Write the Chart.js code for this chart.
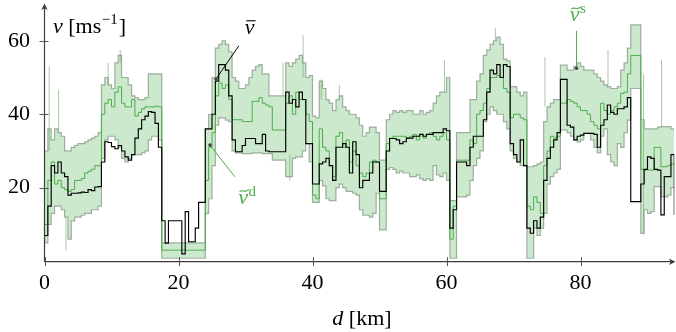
<!DOCTYPE html>
<html>
<head>
<meta charset="utf-8">
<script src="https://cdn.jsdelivr.net/npm/chart.js@4.4.1/dist/chart.umd.min.js"></script>
<style>
    html, body { margin: 0; padding: 0; background: #fff; }
</style>
</head>
<body>
<canvas id="velocitaChart" width="676" height="332"></canvas>
<script>
// distanza percorsa [km], passo 0.5
const distanza = [
    0, 0.5, 1, 1.5, 2, 2.5, 3, 3.5, 4, 4.5,
    5, 5.5, 6, 6.5, 7, 7.5, 8, 8.5, 9, 9.5,
    10, 10.5, 11, 11.5, 12, 12.5, 13, 13.5, 14, 14.5,
    15, 15.5, 16, 16.5, 17, 17.5, 18, 18.5, 19, 19.5,
    20, 20.5, 21, 21.5, 22, 22.5, 23, 23.5, 24, 24.5,
    25, 25.5, 26, 26.5, 27, 27.5, 28, 28.5, 29, 29.5,
    30, 30.5, 31, 31.5, 32, 32.5, 33, 33.5, 34, 34.5,
    35, 35.5, 36, 36.5, 37, 37.5, 38, 38.5, 39, 39.5,
    40, 40.5, 41, 41.5, 42, 42.5, 43, 43.5, 44, 44.5,
    45, 45.5, 46, 46.5, 47, 47.5, 48, 48.5, 49, 49.5,
    50, 50.5, 51, 51.5, 52, 52.5, 53, 53.5, 54, 54.5,
    55, 55.5, 56, 56.5, 57, 57.5, 58, 58.5, 59, 59.5,
    60, 60.5, 61, 61.5, 62, 62.5, 63, 63.5, 64, 64.5,
    65, 65.5, 66, 66.5, 67, 67.5, 68, 68.5, 69, 69.5,
    70, 70.5, 71, 71.5, 72, 72.5, 73, 73.5, 74, 74.5,
    75, 75.5, 76, 76.5, 77, 77.5, 78, 78.5, 79, 79.5,
    80, 80.5, 81, 81.5, 82, 82.5, 83, 83.5, 84, 84.5,
    85, 85.5, 86, 86.5, 87, 87.5, 88, 88.5, 89, 89.5,
    90, 90.5, 91, 91.5, 92, 92.5, 93, 93.5, 94
];

// velocita media misurata (v barra)
const velMedia = [
    7, 15, 26, 24, 27, 24, 23, 18, 18.5, 18.5,
    18.6, 18.8, 18.7, 19.5, 19.2, 20.2, 20.3, 27, 32.5, 32.3,
    31.2, 30.6, 31.5, 30, 28.4, 27.5, 29, 33.5, 36, 38.5,
    39.5, 40.7, 40.5, 37.5, 31, 11, 4.9, 11, 11, 11,
    11, 2, 13.5, 5.3, 5.3, 9, 16, 16, 36, 36,
    40, 49, 53.5, 53.5, 52, 45, 33, 29.8, 29.8, 31.5,
    33.4, 33.4, 33.4, 32, 32, 34.5, 30, 29.8, 29.8, 29.8,
    29.8, 29.8, 46, 43, 44, 42, 46, 44, 32, 32,
    21, 21, 26.5, 27, 28, 26, 22, 31, 31, 32,
    31, 24, 32.5, 29, 20, 22, 22, 24, 27, 27,
    19, 19, 30, 33.4, 33.4, 33, 32, 32.5, 33.5, 33.5,
    34, 34, 34.5, 34, 34.5, 34.5, 35, 35, 35, 36,
    35.5, 9, 14, 27, 27, 27, 26, 31, 34, 34,
    34, 38.5, 46, 52, 51, 53.5, 50, 53.5, 53, 32,
    29, 27, 33, 26, 9, 7.6, 11, 9, 12, 22,
    28, 31, 33, 35, 49.5, 49.5, 37, 36.5, 33, 34,
    34.3, 34.8, 34.8, 34.8, 34.5, 31, 37, 38.5, 42.5, 40.5,
    40, 41.5, 41.5, 42, 44.5, 16.2, 16.2, 16.2, 21, 25,
    28.4, 28, 25, 24.8, 12.6, 23, 23, 29, 12.6
];

// velocita stimata (v tilde s)
const velStimata = [
    10, 22, 27, 21, 22, 20, 19.5, 19, 19.5, 22,
    22, 22.5, 24, 24.5, 25, 26, 26, 40, 43, 44,
    42, 46, 47.5, 43, 42, 42, 44, 39.5, 40.5, 41.5,
    42, 42, 42, 42.2, 42, 3, 3, 3, 3, 3,
    3, 3, 3, 3, 3, 3, 3, 3, 22, 31,
    35, 45, 48.5, 47, 48, 44, 38.5, 38.5, 38.5, 38,
    38, 38, 43.5, 43.5, 44.5, 43, 42.5, 42, 35.7, 35.7,
    35.7, 35.7, 43, 45, 40, 46, 44, 44, 40, 38,
    18, 17, 36, 31, 30, 26, 23, 34, 35, 31,
    33, 27, 30, 26, 24, 23, 24, 27, 27.5, 27,
    17, 17, 32, 33.5, 34, 34, 34, 34, 33.5, 34,
    34.5, 33, 34.5, 33.5, 34.5, 35, 34, 33, 34, 35,
    33, 6, 15, 27.5, 27.5, 27.5, 27.5, 33, 32, 40,
    41, 43, 47, 50, 50, 50.5, 50, 47, 46, 39,
    40, 40, 39, 38.5, 15, 14, 17.5, 16, 13, 26,
    30, 34, 33.5, 34, 43, 43, 44, 43.5, 43, 42,
    41, 41, 40, 38, 37, 36, 43, 41, 40, 41,
    42, 43, 45.7, 46, 51, 56, 56, 56, 25, 24.8,
    24.8, 24.8, 31, 31, 25.7, 25.7, 26, 26.5, 26.5
];

// limite superiore e inferiore della banda (v tilde d)
const bandaSup = [
    30, 36, 33, 36, 35, 34, 30, 30, 31, 31.5,
    32, 32, 32.5, 33, 33.5, 34, 35, 48, 50, 48,
    47, 54, 56, 50, 50, 48, 45, 44.5, 44, 44,
    44.5, 51, 51, 51, 51, 5, 5, 5, 5, 5,
    5, 5, 5, 5, 5, 5, 5, 5, 36, 40,
    50, 58, 59, 60, 59, 57, 50, 49, 47, 47,
    48, 50, 52, 53, 53.5, 51, 51, 45, 45, 45,
    45, 45, 54, 53, 54, 55, 56, 54, 50, 50.5,
    39.5, 39, 49, 47, 44, 43, 41, 44, 45, 42,
    41, 40, 40, 39, 37, 34, 35, 36.5, 36.5, 35,
    27.5, 27.5, 38.5, 40, 41, 40.5, 41, 40.5, 41, 41,
    40, 40, 41, 40, 40.5, 41, 43, 45, 46, 46,
    50, 16.5, 16.5, 35, 35, 35, 35, 44, 44, 49,
    51, 56, 57.5, 59, 60, 61, 59, 55, 54.5, 47.5,
    47.5, 46, 45, 46, 25.7, 25.7, 26, 26.5, 27, 38,
    42, 43, 44, 44, 53.4, 53.4, 52, 52, 53, 54,
    53, 52, 52, 52, 51, 50, 49, 48, 47.5, 47,
    47, 47.5, 52, 54, 58, 64.3, 64.3, 64.3, 38.5, 36,
    36, 36, 36, 36.5, 36.6, 36.6, 36.6, 36, 36
];

const bandaInf = [
    5, 10, 13, 15, 15, 14, 12, 6, 11, 12,
    12, 12.5, 13, 13, 14, 14, 15, 28, 33, 34,
    34, 33, 31, 28, 27, 28, 29, 29, 29, 29.5,
    30, 33, 34, 34, 33, 0.8, 0.8, 0.8, 0.8, 0.8,
    0.8, 0.8, 0.8, 0.8, 0.8, 0.8, 0.8, 0.8, 13, 17,
    26, 37, 39, 39, 38.4, 38, 30, 29.5, 29.5, 29.3,
    29.3, 29.3, 29.5, 29.5, 29.5, 29.3, 29.3, 29.3, 27.5, 27.5,
    27.5, 27.5, 23, 23, 28, 28.4, 28.4, 30, 32, 27,
    16, 16, 22, 20.5, 17, 16.5, 16.5, 20, 21, 20,
    19, 19, 18.5, 18, 14, 12.5, 12.5, 12, 13, 18.5,
    8.5, 8.5, 25, 25.5, 25, 24, 24.5, 24, 24, 23,
    23, 23.5, 22.5, 22, 22.5, 22, 26, 23.5, 23, 24,
    22, 0.8, 0.8, 17.5, 17.5, 17.5, 18, 22, 26, 28,
    30, 38, 40, 42, 41, 40, 40, 38, 36, 30,
    28, 27, 26, 26, 0.8, 0.8, 9, 7, 9, 13,
    21, 23, 24, 25, 35.7, 35.7, 35, 34, 33, 32.5,
    33, 34.8, 34.8, 33, 31, 29.5, 34, 36, 29, 27,
    26, 32, 31, 35, 38.4, 47, 47, 47, 7.6, 14,
    13, 13.5, 20.3, 20.3, 17.5, 17.5, 18, 20, 20
];

// picchi isolati oltre la banda: posizione [km], da, a [m/s]
const picchiDist  = [0.7, 2.1, 3.2, 9.5, 11.3, 35.6, 36.6, 38.6, 41.3, 44.0, 59.7, 67.3, 74.7, 84.1, 89.4, 92.1];
const picchiBasso = [30, 35, 3, 48, 54, 45, 22, 50, 44, 44, 46, 60, 42, 47, 7.6, 36.6];
const picchiAlto  = [53, 46.6, 12, 54, 57.5, 54, 29, 61.5, 49.5, 48, 54.7, 63.4, 55.6, 57.5, 51, 54.8];

const xTicks = [0, 20, 40, 60, 80];
const yTicks = [20, 40, 60];

// etichette con linea di richiamo: punto indicato, fine linea, posizione testo
const richiami = [
    { base: 'v', accento: 'barra', apice: '', colore: '#000000', punto: [25.6, 49.6], fine: [29.0, 58.6], testo: [29.9, 61.9] },
    { base: 'v', accento: 'tilde', apice: 'd', colore: '#4aae4a', punto: [24.7, 31.6], fine: [28.4, 23.0], testo: [28.9, 15.6] },
    { base: 'v', accento: 'tilde', apice: 's', colore: '#4aae4a', punto: [79.4, 52.5], fine: [79.4, 62.7], testo: [78.4, 65.3] }
];

const SERIF = '"Liberation Serif", "Times New Roman", serif';
const FS = 22;

function aPunti(valori) {
    return distanza.map((d, i) => ({ x: d, y: valori[i] }));
}

// ogni picco e' un segmento verticale, separato dal successivo da un punto nullo
function segmentiPicchi() {
    const punti = [];
    picchiDist.forEach((d, i) => {
        punti.push({ x: d, y: picchiBasso[i] }, { x: d, y: picchiAlto[i] }, { x: d, y: null });
    });
    return punti;
}

function freccia(ctx, x, y, ang) {
    ctx.save();
    ctx.translate(x, y);
    ctx.rotate(ang);
    ctx.beginPath();
    ctx.moveTo(0, 0);
    ctx.lineTo(-6.5, -3.2);
    ctx.lineTo(-4.8, 0);
    ctx.lineTo(-6.5, 3.2);
    ctx.closePath();
    ctx.fill();
    ctx.restore();
}

function accento(ctx, tipo, x, y, w) {
    ctx.beginPath();
    if (tipo === 'barra') {
        ctx.moveTo(x, y);
        ctx.lineTo(x + w, y);
    } else {
        ctx.moveTo(x, y + 1);
        ctx.bezierCurveTo(x + w * 0.3, y - 2.5, x + w * 0.55, y + 3, x + w, y - 1.5);
    }
    ctx.stroke();
}

const assiEtichette = {
    id: 'assiEtichette',
    afterDraw(chart) {
        const { ctx, chartArea: a, scales: { x, y } } = chart;
        ctx.save();

        // assi con frecce
        ctx.strokeStyle = '#3c3c3c';
        ctx.fillStyle = '#3c3c3c';
        ctx.lineWidth = 1.2;
        ctx.beginPath();
        ctx.moveTo(a.left, a.bottom + 0.5);
        ctx.lineTo(a.right - 1, a.bottom + 0.5);
        ctx.moveTo(a.left, a.bottom + 0.5);
        ctx.lineTo(a.left, a.top + 3);
        ctx.stroke();
        freccia(ctx, a.right + 1.2, a.bottom + 0.5, 0);
        freccia(ctx, a.left, a.top - 0.5, -Math.PI / 2);

        // tacche
        ctx.lineWidth = 1;
        ctx.strokeStyle = '#555';
        ctx.beginPath();
        xTicks.forEach(v => {
            const px = Math.round(x.getPixelForValue(v)) + 0.5;
            ctx.moveTo(px, a.bottom - 4);
            ctx.lineTo(px, a.bottom + 5);
        });
        yTicks.forEach(v => {
            const py = Math.round(y.getPixelForValue(v)) + 0.5;
            ctx.moveTo(a.left - 5, py);
            ctx.lineTo(a.left + 4, py);
        });
        ctx.stroke();

        // titoli degli assi
        ctx.fillStyle = '#000';
        ctx.textBaseline = 'alphabetic';
        ctx.textAlign = 'left';
        let cx = 53;
        ctx.font = 'italic ' + FS + 'px ' + SERIF;
        ctx.fillText('v', cx, 33);
        cx += ctx.measureText('v').width;
        ctx.font = FS + 'px ' + SERIF;
        ctx.fillText(' [ms', cx, 33);
        cx += ctx.measureText(' [ms').width + 0.5;
        ctx.font = '15px ' + SERIF;
        ctx.fillText('\u22121', cx, 24);
        cx += ctx.measureText('\u22121').width + 1;
        ctx.font = FS + 'px ' + SERIF;
        ctx.fillText(']', cx, 33);

        ctx.font = 'italic ' + FS + 'px ' + SERIF;
        const wd = ctx.measureText('d').width;
        ctx.font = FS + 'px ' + SERIF;
        const wk = ctx.measureText(' [km]').width;
        let tx = 362 - (wd + wk) / 2;
        ctx.font = 'italic ' + FS + 'px ' + SERIF;
        ctx.fillText('d', tx, 325);
        ctx.font = FS + 'px ' + SERIF;
        ctx.fillText(' [km]', tx + wd, 325);

        // richiami delle curve
        richiami.forEach(r => {
            const px = x.getPixelForValue(r.punto[0]);
            const py = y.getPixelForValue(r.punto[1]);
            const fx = x.getPixelForValue(r.fine[0]);
            const fy = y.getPixelForValue(r.fine[1]);
            ctx.strokeStyle = r.colore;
            ctx.lineWidth = 1;
            ctx.beginPath();
            ctx.moveTo(px, py);
            ctx.lineTo(fx, fy);
            ctx.stroke();
            ctx.fillStyle = '#444';
            ctx.beginPath();
            ctx.arc(px, py, 1.8, 0, Math.PI * 2);
            ctx.fill();

            const lx = x.getPixelForValue(r.testo[0]);
            const ly = y.getPixelForValue(r.testo[1]);
            ctx.fillStyle = r.colore;
            ctx.strokeStyle = r.colore;
            ctx.font = 'italic ' + FS + 'px ' + SERIF;
            ctx.fillText(r.base, lx, ly);
            const wv = ctx.measureText(r.base).width;
            ctx.lineWidth = 1.1;
            accento(ctx, r.accento, lx + 1.5, ly - 13, wv - 0.5);
            if (r.apice) {
                ctx.font = '15px ' + SERIF;
                ctx.fillText(r.apice, lx + wv + 0.5, ly - 8);
            }
        });

        ctx.restore();
    }
};

const ctxVelocita = document.getElementById('velocitaChart').getContext('2d');
const velocitaChart = new Chart(ctxVelocita, {
    type: 'line',
    data: {
        datasets: [
            {
                label: 'v media',
                data: aPunti(velMedia),
                borderColor: '#000000',
                borderWidth: 1.15,
                stepped: true,
                pointRadius: 0,
                fill: false
            },
            {
                label: 'v stimata',
                data: aPunti(velStimata),
                borderColor: '#4aae4a',
                borderWidth: 1,
                stepped: true,
                pointRadius: 0,
                fill: false
            },
            {
                label: 'picchi',
                data: segmentiPicchi(),
                borderColor: 'rgba(110, 165, 110, 0.6)',
                borderWidth: 1,
                spanGaps: false,
                pointRadius: 0,
                fill: false
            },
            {
                label: 'banda sup',
                data: aPunti(bandaSup),
                borderColor: 'rgba(125, 145, 125, 0.7)',
                borderWidth: 1.2,
                backgroundColor: 'rgb(205, 233, 205)',
                stepped: true,
                pointRadius: 0,
                fill: '+1'
            },
            {
                label: 'banda inf',
                data: aPunti(bandaInf),
                borderColor: 'rgba(125, 145, 125, 0.7)',
                borderWidth: 1.2,
                stepped: true,
                pointRadius: 0,
                fill: false
            }
        ]
    },
    options: {
        responsive: false,
        devicePixelRatio: 1,
        animation: false,
        layout: { padding: { left: 0, right: 1.7, top: 4, bottom: 0 } },
        plugins: {
            legend: { display: false },
            tooltip: { enabled: false },
            filler: { drawTime: 'beforeDatasetsDraw' }
        },
        scales: {
            x: {
                type: 'linear',
                min: 0,
                max: 94,
                afterBuildTicks: s => { s.ticks = xTicks.map(v => ({ value: v })); },
                afterFit: s => {
                    s.height = 70.8;
                    s.paddingLeft = 0;
                    s.paddingRight = 0;
                },
                grid: { display: false, drawTicks: false },
                border: { display: false },
                ticks: {
                    padding: 9,
                    maxRotation: 0,
                    color: '#000',
                    font: { family: SERIF, size: FS }
                }
            },
            y: {
                type: 'linear',
                min: 0,
                max: 70,
                afterBuildTicks: s => { s.ticks = yTicks.map(v => ({ value: v })); },
                afterFit: s => {
                    s.width = 44.5;
                    s.paddingTop = 0;
                    s.paddingBottom = 0;
                },
                grid: { display: false, drawTicks: false },
                border: { display: false },
                ticks: {
                    padding: 14.5,
                    color: '#000',
                    font: { family: SERIF, size: FS }
                }
            }
        }
    },
    plugins: [assiEtichette]
});
</script>
</body>
</html>
